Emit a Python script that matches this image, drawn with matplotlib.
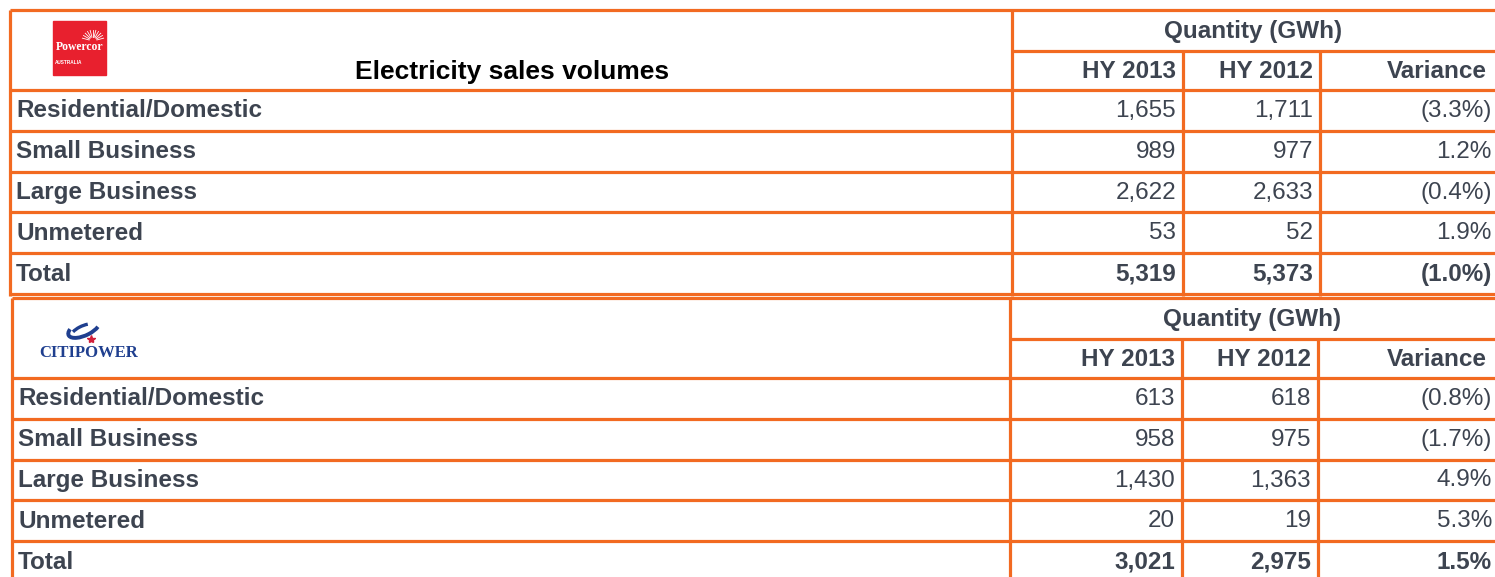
import matplotlib
matplotlib.use("Agg")
import matplotlib.pyplot as plt
from matplotlib.patches import Rectangle, Arc
import numpy as np

# ---------------- data ----------------
categories = ["Residential/Domestic", "Small Business", "Large Business", "Unmetered", "Total"]
columns = ["HY 2013", "HY 2012", "Variance"]
group_header = "Quantity (GWh)"
title = "Electricity sales volumes"

powercor_hy2013 = [1655, 989, 2622, 53, 5319]
powercor_hy2012 = [1711, 977, 2633, 52, 5373]
powercor_variance = [-3.3, 1.2, -0.4, 1.9, -1.0]

citipower_hy2013 = [613, 958, 1430, 20, 3021]
citipower_hy2012 = [618, 975, 1363, 19, 2975]
citipower_variance = [-0.8, -1.7, 4.9, 5.3, 1.5]

# ---------------- style ----------------
ORANGE = "#F26A21"
TEXT = "#3D4450"
FONT = "Liberation Sans"
FS = 17.5
LW = 2.3

W, H = 1495, 577
fig = plt.figure(figsize=(W / 100, H / 100), dpi=100)
ax = fig.add_axes([0, 0, 1, 1])
ax.set_xlim(0, W)
ax.set_ylim(H, 0)
ax.axis("off")


def fmt_num(v):
    return f"{v:,}"


def fmt_var(v):
    return f"({abs(v):.1f}%)" if v < 0 else f"{v:.1f}%"


def hline(y, x0, x1, lw=LW):
    ax.plot([x0, x1], [y, y], color=ORANGE, lw=lw, solid_capstyle="butt")


def vline(x, y0, y1, lw=LW):
    ax.plot([x, x], [y0, y1], color=ORANGE, lw=lw, solid_capstyle="butt")


def draw_section(top, left, split, c1, c2, bottom, vals13, vals12, var, show_title):
    row_h = 40.8
    q_line = top + 41
    head_bottom = top + 80
    hline(top, left, W)
    hline(q_line, split, W)
    hline(head_bottom, left, W)
    rows_y = [head_bottom + row_h * (i + 1) for i in range(len(categories))]
    for y in rows_y:
        if y < H:
            hline(y, left, W)
    vline(left, top, bottom)
    vline(split, top, bottom)
    vline(c1, q_line, bottom)
    vline(c2, q_line, bottom)
    ax.text((split + W) / 2, (top + q_line) / 2 + 1, group_header, ha="center", va="center",
            fontsize=FS, fontweight="bold", color=TEXT, family=FONT)
    hy = (q_line + head_bottom) / 2 + 1
    ax.text(c1 - 7, hy, columns[0], ha="right", va="center", fontsize=FS, fontweight="bold", color=TEXT, family=FONT)
    ax.text(c2 - 7, hy, columns[1], ha="right", va="center", fontsize=FS, fontweight="bold", color=TEXT, family=FONT)
    ax.text(W - 8, hy, columns[2], ha="right", va="center", fontsize=FS, fontweight="bold", color=TEXT, family=FONT)
    if show_title:
        ax.text(512, hy, title, ha="center", va="center", fontsize=19, fontweight="bold",
                color="black", family=FONT)
    for i, cat in enumerate(categories):
        yc = head_bottom + row_h * i + row_h / 2 + 0.5
        bold = "bold" if cat == "Total" else "normal"
        ax.text(left + 6, yc, cat, ha="left", va="center", fontsize=FS, fontweight="bold", color=TEXT, family=FONT)
        ax.text(c1 - 7, yc, fmt_num(vals13[i]), ha="right", va="center", fontsize=FS, fontweight=bold, color=TEXT, family=FONT)
        ax.text(c2 - 7, yc, fmt_num(vals12[i]), ha="right", va="center", fontsize=FS, fontweight=bold, color=TEXT, family=FONT)
        ax.text(W - 3, yc, fmt_var(var[i]), ha="right", va="center", fontsize=FS, fontweight=bold, color=TEXT, family=FONT)


draw_section(10, 10, 1012, 1183, 1320, 296, powercor_hy2013, powercor_hy2012, powercor_variance, True)
draw_section(298, 12, 1010, 1182, 1318, H, citipower_hy2013, citipower_hy2012, citipower_variance, False)

# Powercor logo
ax.add_patch(Rectangle((53, 21), 53, 54, color="#E8202E", zorder=3))
ax.text(79.5, 47, "Powercor", ha="center", va="center", fontsize=8.4, fontweight="bold",
        color="white", family="Liberation Serif", zorder=4)
ax.text(69, 62, "AUSTRALIA", ha="center", va="center", fontsize=3.4, fontweight="bold",
        color="white", family=FONT, zorder=4)
for a in np.linspace(15, 165, 11):
    r0, r1 = 4, 11
    cx, cy = 93, 41
    ax.plot([cx + r0 * np.cos(np.radians(a)), cx + r1 * np.cos(np.radians(a))],
            [cy - r0 * np.sin(np.radians(a)), cy - r1 * np.sin(np.radians(a))],
            color="white", lw=0.6, zorder=4)

# CitiPower logo
BLUE = "#1F3F8F"
ax.add_patch(Arc((84, 328), 34, 15, angle=-25, theta1=20, theta2=200, color=BLUE, lw=2.8, zorder=4))
ax.add_patch(Arc((83, 331), 26, 10, angle=-25, theta1=200, theta2=330, color=BLUE, lw=2.4, zorder=4))
ax.plot([91], [339], marker="*", markersize=6, color="#D11F3A", zorder=4)
ax.text(89, 353, "CITIPOWER", ha="center", va="center", fontsize=12, color=BLUE,
        family="Liberation Serif", fontweight="bold", zorder=4)

fig.savefig("out.png", dpi=100, facecolor="white")
